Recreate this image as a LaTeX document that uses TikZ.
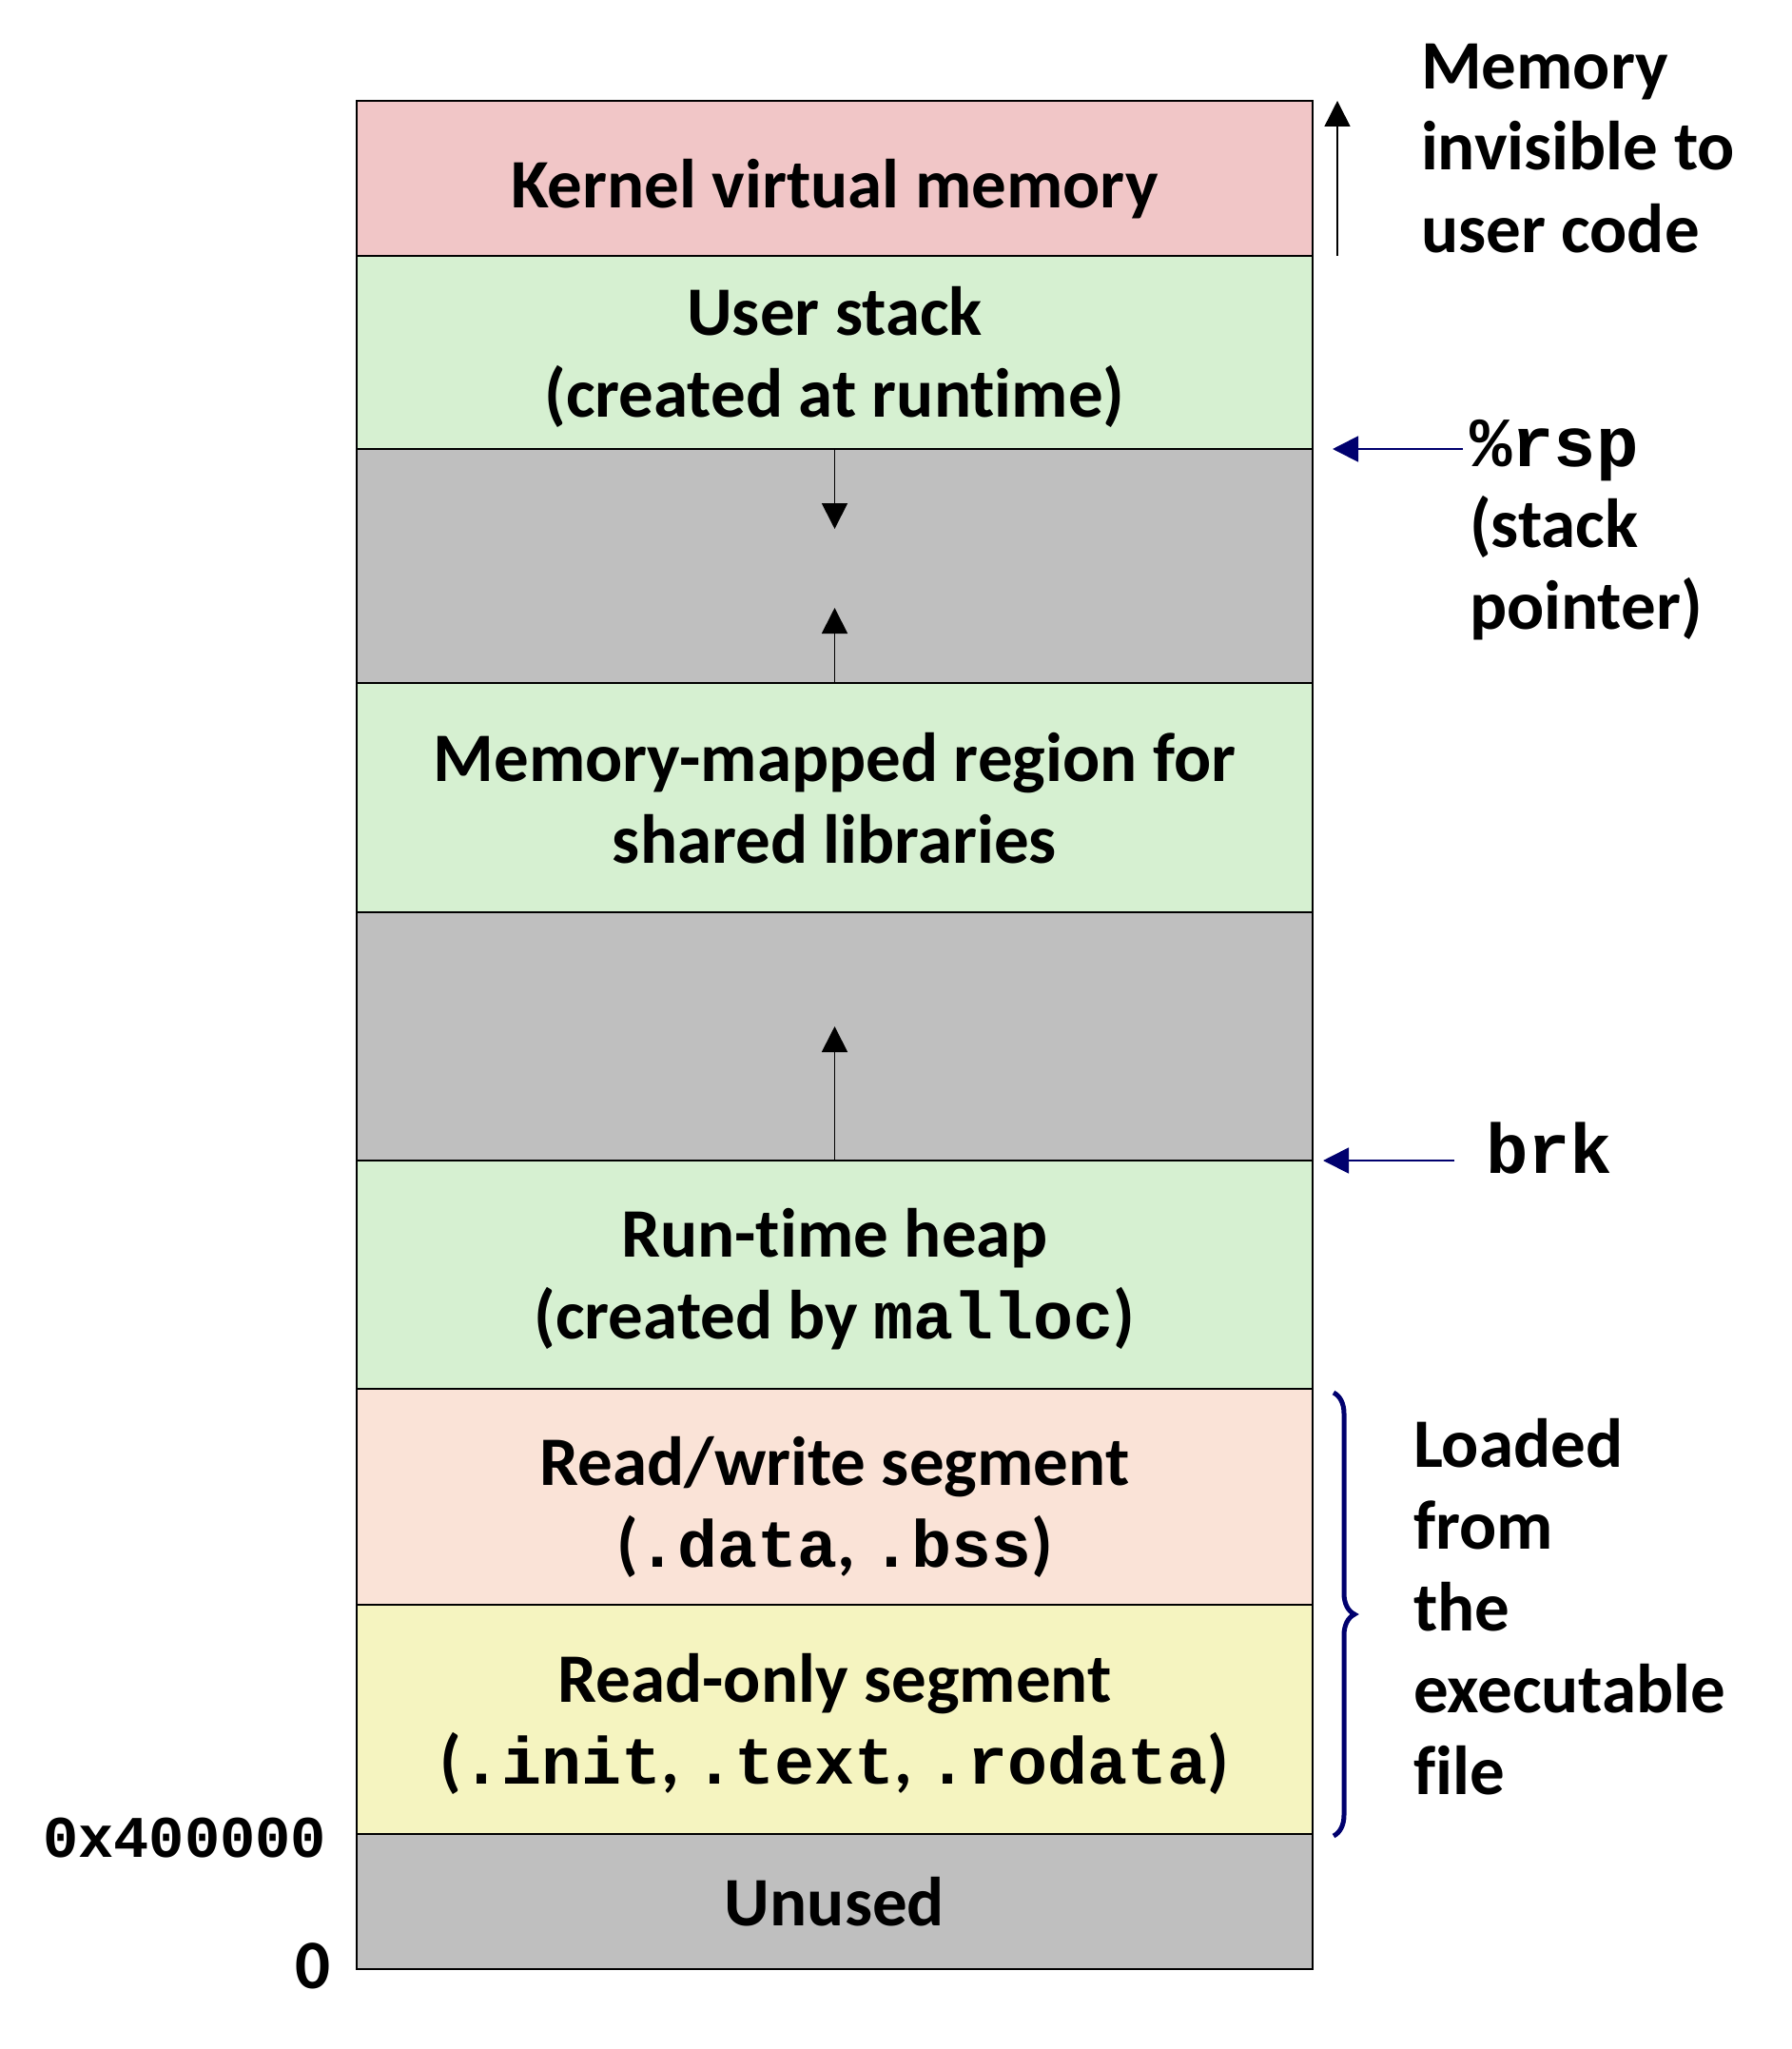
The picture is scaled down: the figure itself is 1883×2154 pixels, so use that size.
\documentclass[tikz,border=0pt]{standalone}
\usepackage{fontspec}
\setmainfont{Carlito}[Ligatures=NoCommon]
\setmonofont{Liberation Mono}
\usetikzlibrary{arrows.meta,decorations.pathreplacing,calc}
\definecolor{kern}{RGB}{241,198,199}
\definecolor{usr}{RGB}{214,240,209}
\definecolor{gapc}{RGB}{191,191,191}
\definecolor{rwc}{RGB}{250,227,215}
\definecolor{roc}{RGB}{245,244,192}
\definecolor{navy}{RGB}{0,0,110}
\newcommand{\mt}[1]{{\fontsize{70}{86}\selectfont\ttfamily\bfseries #1}}
\begin{document}
\begin{tikzpicture}[x=1pt,y=-1pt,
  seg/.style={draw=black,line width=1.8pt,anchor=north west,minimum width=1005pt,inner sep=0pt,outer sep=0pt},
  lbl/.style={inner sep=0pt,outer sep=0pt,align=center,font=\fontsize{73}{86}\selectfont\bfseries},
  txt/.style={inner sep=0pt,outer sep=0pt,align=left,font=\fontsize{73}{86}\selectfont\bfseries},
  mono/.style={inner sep=0pt,outer sep=0pt,font=\fontsize{62}{86}\selectfont\ttfamily\bfseries},
  bigmono/.style={inner sep=0pt,outer sep=0pt,font=\fontsize{74}{86}\selectfont\ttfamily\bfseries},
  growarr/.style={line width=1.8pt,-{Triangle[length=27pt,width=27pt]}},
  ptrarr/.style={color=navy,line width=1.8pt,-{Triangle[length=27pt,width=27pt]}}]
\useasboundingbox (0,0) rectangle (1883,2154);
% segments
\node[seg,fill=kern,minimum height=163pt] (kernel) at (375,106) {};
\node[seg,fill=usr,minimum height=203pt] (ustack) at (375,269) {};
\node[seg,fill=gapc,minimum height=246pt] (gapa) at (375,472) {};
\node[seg,fill=usr,minimum height=241pt] (shlib) at (375,718) {};
\node[seg,fill=gapc,minimum height=261pt] (gapb) at (375,959) {};
\node[seg,fill=usr,minimum height=240pt] (heap) at (375,1220) {};
\node[seg,fill=rwc,minimum height=227pt] (rw) at (375,1460) {};
\node[seg,fill=roc,minimum height=241pt] (ro) at (375,1687) {};
\node[seg,fill=gapc,minimum height=142pt] (unused) at (375,1928) {};
% segment labels
\node[lbl] (kernelt) at ($(kernel.center)+(0,11)$) {Kernel virtual memory};
\node[lbl] (ustackt) at ($(ustack.center)+(0,5)$) {User stack\\(created at runtime)};
\node[lbl] (shlibt) at ($(shlib.center)+(0,1)$) {Memory-mapped region for\\shared libraries};
\node[lbl] (heapt) at ($(heap.center)+(0,5)$) {Run-time heap\\(created by \mt{malloc})};
\node[lbl] (rwt) at ($(rw.center)+(0,11)$) {Read/write segment\\(\mt{.data}, \mt{.bss})};
\node[lbl] (rot) at ($(ro.center)+(0,5)$) {Read-only segment\\(\mt{.init}, \mt{.text}, \mt{.rodata})};
\node[lbl] (unusedt) at (unused.center) {Unused};
% growth arrows
\coordinate (sdown) at ($(ustack.south)+(0,84)$);
\coordinate (mup) at ($(shlib.north)+(0,-79)$);
\coordinate (hup) at ($(heap.north)+(0,-141)$);
\draw[growarr] (ustack.south) -- (sdown);
\draw[growarr] (shlib.north) -- (mup);
\draw[growarr] (heap.north) -- (hup);
% kernel arrow
\coordinate (ka) at ($(kernel.south east)+(26,0)$);
\coordinate (kb) at ($(kernel.north east)+(26,0)$);
\draw[growarr,line width=1.5pt] (ka) -- (kb);
\node[txt,anchor=base west] (inv) at (1494,265) {Memory\\invisible to\\user code};
% rsp
\node[bigmono,anchor=base west] (rsp) at (1545,490) {\%rsp};
\node[txt,anchor=base west] (sp) at (1545,661) {(stack\\pointer)};
\coordinate (rspfrom) at ($(rsp.west |- ustack.south)+(-7,0)$);
\coordinate (rspto) at ($(ustack.south east)+(21,0)$);
\draw[ptrarr] (rspfrom) -- (rspto);
% brk
\node[bigmono,anchor=base west] (brk) at (1562,1233) {brk};
\coordinate (brkfrom) at ($(brk.west |- gapb.south)+(-33,0)$);
\coordinate (brkto) at ($(gapb.south east)+(11,0)$);
\draw[ptrarr] (brkfrom) -- (brkto);
% brace
\coordinate (bra) at ($(rw.north east)+(22,4)$);
\coordinate (brb) at ($(ro.south east)+(22,2)$);
\draw[navy,line width=5pt,decorate,decoration={brace,amplitude=22pt}] (bra) -- (brb);
\node[txt,anchor=base west] (load) at (1486,1886) {Loaded\\from\\the\\executable\\file};
% addresses
\node[mono,anchor=base east] (addr) at (343,1952) {0x400000};
\node[txt,anchor=base east] (zero) at (347,2090) {0};
\end{tikzpicture}
\end{document}
